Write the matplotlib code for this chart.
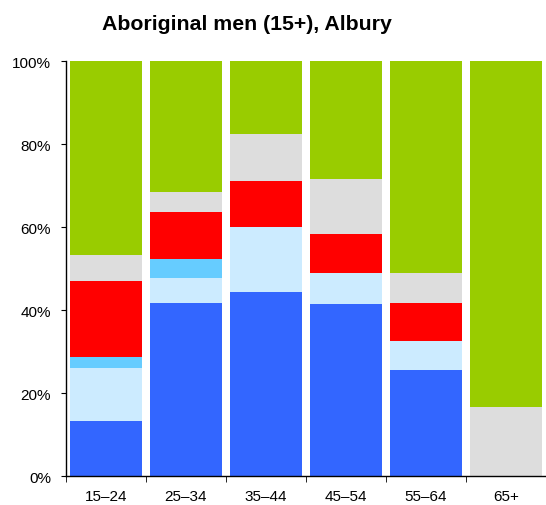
import matplotlib
matplotlib.use("Agg")
import matplotlib.pyplot as plt
import numpy as np

plt.rcParams["font.family"] = ["Liberation Sans", "DejaVu Sans"]

categories = ["15–24", "25–34", "35–44", "45–54", "55–64", "65+"]
# cumulative tops (%), bottom to top
blue_top = [13.3, 41.8, 44.4, 41.5, 25.6, 0.0]
lightblue_top = [26.0, 47.7, 60.2, 49.0, 32.5, 0.0]
sky_top = [28.7, 52.3, 60.2, 49.0, 32.5, 0.0]
red_top = [47.2, 63.8, 71.3, 58.3, 41.8, 0.0]
gray_top = [53.3, 68.5, 82.4, 71.6, 48.9, 16.6]
green_top = [100, 100, 100, 100, 100, 100]

tops = [blue_top, lightblue_top, sky_top, red_top, gray_top, green_top]
colors = ["#3366FF", "#CCEBFF", "#66CCFF", "#FF0000", "#DDDDDD", "#99CC00"]

fig = plt.figure(figsize=(5.46, 5.06), dpi=100)
ax = fig.add_axes([0.1203, 0.0567, 0.8797, 0.8198])

x = np.arange(len(categories))
bottom = np.zeros(len(categories))
for top, c in zip(tops, colors):
    top = np.array(top, dtype=float)
    ax.bar(x, top - bottom, bottom=bottom, width=0.9, color=c, linewidth=0)
    bottom = top

ax.set_xlim(-0.5, len(categories) - 0.5)
ax.set_ylim(0, 100)
ax.set_yticks([0, 20, 40, 60, 80, 100])
ax.set_yticklabels(["0%", "20%", "40%", "60%", "80%", "100%"], fontsize=11)
ax.set_xticks(x)
ax.set_xticklabels(categories, fontsize=11)
ax.set_xticks(np.arange(len(categories)) - 0.5, minor=True)
ax.tick_params(axis="x", which="major", length=0, pad=9)
ax.tick_params(axis="x", which="minor", length=4, direction="out")
ax.tick_params(axis="y", length=3.5, direction="out", pad=7)

for s in ["top", "right"]:
    ax.spines[s].set_visible(False)
ax.spines["left"].set_linewidth(1.0)
ax.spines["bottom"].set_linewidth(1.0)

fig.text(0.452, 0.952, "Aboriginal men (15+), Albury", ha="center", va="center",
         fontsize=15.3, fontweight="bold")

fig.savefig("out.png", dpi=100)
